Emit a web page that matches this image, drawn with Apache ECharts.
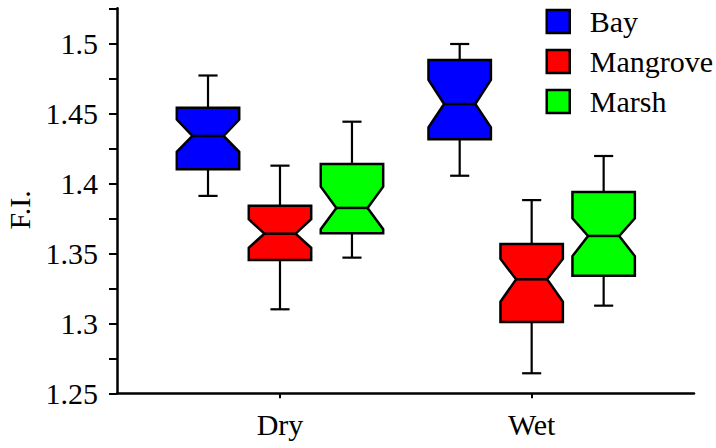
<!DOCTYPE html>
<html>
<head>
<meta charset="utf-8">
<script src="https://cdn.jsdelivr.net/npm/echarts@6/dist/echarts.min.js"></script>
<style>html,body{margin:0;padding:0;background:#fff;}#chart{width:716px;height:448px;}</style>
</head>
<body>
<div id="chart"></div>
<script>
// ---- data ----
const categories = ['Dry', 'Wet'];
const seriesNames = ['Bay', 'Mangrove', 'Marsh'];
const seriesColors = ['#0000ff', '#ff0000', '#00ff00'];
// each row: [min, q1, notchLow, median, notchHigh, q3, max] for Dry, Wet
const bayStats = [
  [1.391, 1.410, 1.4225, 1.4338, 1.4455, 1.454, 1.477],
  [1.4054, 1.4314, 1.440, 1.4566, 1.4738, 1.488, 1.4995]
];
const mangroveStats = [
  [1.310, 1.3452, 1.354, 1.364, 1.3743, 1.384, 1.4126],
  [1.2643, 1.3009, 1.3154, 1.3314, 1.3460, 1.3566, 1.388]
];
const marshStats = [
  [1.3469, 1.3643, 1.3672, 1.3824, 1.3976, 1.4138, 1.444],
  [1.3126, 1.334, 1.348, 1.3624, 1.375, 1.3938, 1.4195]
];
const yTicks = [1.25, 1.3, 1.35, 1.4, 1.45, 1.5];

const allStats = [bayStats, mangroveStats, marshStats];
const groupOffsets = [-0.286, 0, 0.286];
const FONT = 'Liberation Serif';
const FS = 30;

function makeRender(sIdx) {
  return function (params, api) {
    const cat = api.value(0);
    const unit = api.size([1, 0])[0];
    const xc = api.coord([cat + groupOffsets[sIdx], 0])[0];
    const half = unit * 0.124;
    const inset = half / 2;
    const cap = unit * 0.038;
    const y = v => api.coord([0, v])[1];
    const yMin = y(api.value(1)), yQ1 = y(api.value(2)), yNL = y(api.value(3)),
          yMed = y(api.value(4)), yNH = y(api.value(5)), yQ3 = y(api.value(6)), yMax = y(api.value(7));
    const lineStyle = { stroke: '#000', lineWidth: 2.2, fill: null };
    const pts = [
      [xc - half, yQ3], [xc + half, yQ3], [xc + half, yNH], [xc + inset, yMed],
      [xc + half, yNL], [xc + half, yQ1], [xc - half, yQ1], [xc - half, yNL],
      [xc - inset, yMed], [xc - half, yNH]
    ];
    return {
      type: 'group',
      children: [
        { type: 'line', shape: { x1: xc, y1: yQ3, x2: xc, y2: yMax }, style: lineStyle },
        { type: 'line', shape: { x1: xc - cap, y1: yMax, x2: xc + cap, y2: yMax }, style: lineStyle },
        { type: 'line', shape: { x1: xc, y1: yQ1, x2: xc, y2: yMin }, style: lineStyle },
        { type: 'line', shape: { x1: xc - cap, y1: yMin, x2: xc + cap, y2: yMin }, style: lineStyle },
        { type: 'polygon', shape: { points: pts }, style: { fill: seriesColors[sIdx], stroke: '#000', lineWidth: 2.5, lineJoin: 'miter' } },
        { type: 'line', shape: { x1: xc - inset, y1: yMed, x2: xc + inset, y2: yMed }, style: { stroke: '#000', lineWidth: 2.5 } }
      ]
    };
  };
}

const series = seriesNames.map((name, i) => ({
  name: name,
  type: 'custom',
  renderItem: makeRender(i),
  itemStyle: { color: seriesColors[i], borderColor: '#000', borderWidth: 2.5 },
  encode: { x: 0, y: [1, 2, 3, 4, 5, 6, 7] },
  data: allStats[i].map((s, c) => [c].concat(s))
}));

const chart = echarts.init(document.getElementById('chart'), null, { renderer: 'svg' });
chart.setOption({
  animation: false,
  backgroundColor: '#fff',
  grid: { left: 117, right: 22, top: 8.3, bottom: 54.7, containLabel: false, outerBoundsMode: 'none' },
  legend: {
    orient: 'vertical',
    left: 545.5,
    top: 6.5,
    padding: 0,
    itemWidth: 23,
    itemHeight: 23,
    itemGap: 10,
    icon: 'rect',
    data: seriesNames,
    itemStyle: { borderColor: '#000', borderWidth: 2.5 },
    textStyle: { fontFamily: FONT, fontSize: FS, color: '#000', lineHeight: 30, padding: [0, 0, 0, 15] }
  },
  xAxis: {
    type: 'value',
    min: -0.6476,
    max: 1.645,
    splitLine: { show: false },
    axisLine: { onZero: false, lineStyle: { color: '#000', width: 2.5 } },
    axisTick: { customValues: [0, 1], length: 5, lineStyle: { color: '#000', width: 2 } },
    axisLabel: {
      customValues: [0, 1],
      formatter: v => categories[Math.round(v)],
      fontFamily: FONT, fontSize: FS, color: '#000', margin: 16
    }
  },
  yAxis: {
    type: 'value',
    min: 1.25,
    max: 1.525,
    interval: 0.025,
    name: 'F.I.',
    nameLocation: 'middle',
    nameRotate: 90,
    nameGap: 81,
    nameTextStyle: { fontFamily: FONT, fontSize: FS, color: '#000', padding: [0, 18, 0, 0] },
    splitLine: { show: false },
    axisLine: { onZero: false, lineStyle: { color: '#000', width: 2.5 } },
    axisTick: { length: 8, lineStyle: { color: '#000', width: 2 } },
    axisLabel: {
      fontFamily: FONT, fontSize: FS, color: '#000', margin: 19,
      formatter: function (v) {
        const r = Math.round(v * 1000) / 1000;
        for (const t of yTicks) { if (Math.abs(t - r) < 1e-6) return String(t); }
        return '';
      }
    }
  },
  series: series
});
</script>
</body>
</html>
